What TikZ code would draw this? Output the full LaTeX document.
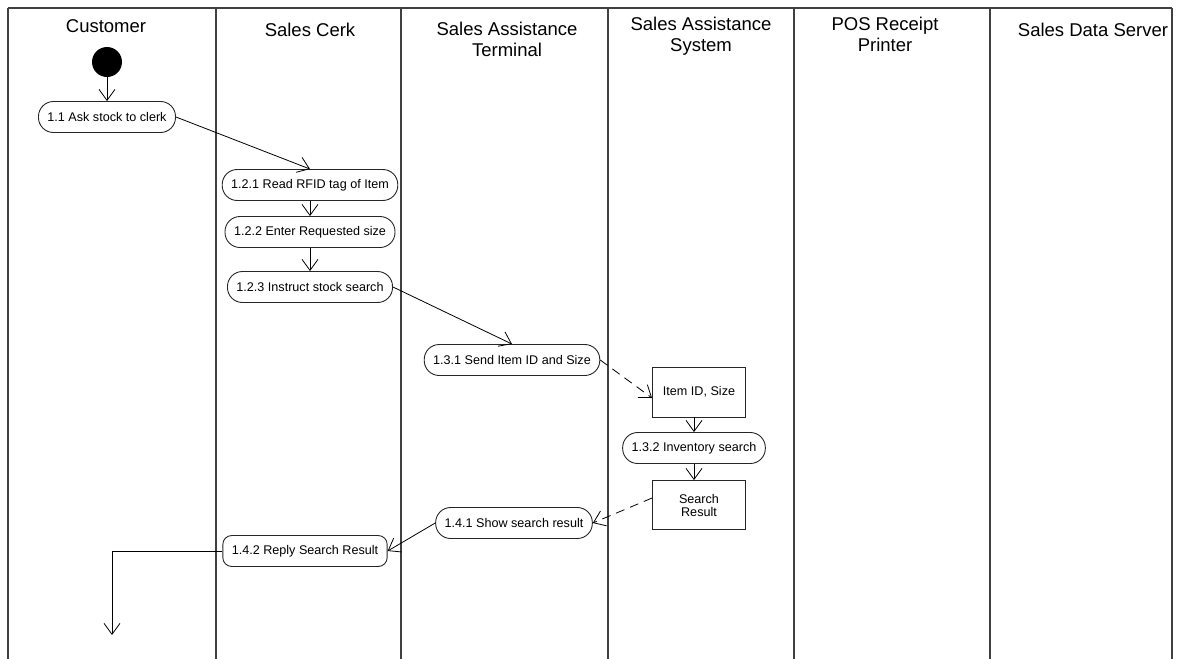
\documentclass[tikz,border=0pt]{standalone}
\usepackage{fontspec}
\setmainfont{Liberation Sans}
\usetikzlibrary{positioning,arrows.meta,calc}

\begin{document}
\begin{tikzpicture}[
  x=1pt, y=-1pt,
  lane/.style={draw=black!75, line width=1.3pt},
  hdr/.style={anchor=base, align=center, font=\fontsize{18.5}{21}\selectfont, inner sep=0pt},
  act/.style={draw=black!85, line width=0.9pt, rounded corners=15pt,
              minimum height=31pt, inner xsep=9pt, inner ysep=0pt,
              font=\fontsize{12.6}{13}\selectfont},
  actsq/.style={act, rounded corners=9pt},
  obj/.style={draw=black!85, line width=0.9pt, minimum width=93pt, minimum height=50pt,
              align=center, font=\fontsize{12.6}{13}\selectfont},
  flow/.style={->, line width=0.8pt},
  dflow/.style={flow, dash pattern=on 9pt off 6pt},
  >={Straight Barb[length=11pt, width=16pt]}
]
  \useasboundingbox (0,0) rectangle (1179,659);

  % swimlanes
  \draw[lane] (8,8) -- (1172,8);
  \foreach \x in {8,216,401,608,794,990,1172}
    \draw[lane] (\x,8) -- (\x,659);

  \node[hdr] (hcust)   at (106,32)  {Customer};
  \node[hdr] (hclerk)  at (310,36)  {Sales Cerk};
  \node[hdr] (hterm)   at (507,56)  {Sales Assistance\\Terminal};
  \node[hdr] (hsys)    at (701,51)  {Sales Assistance\\System};
  \node[hdr] (hprint)  at (885,51)  {POS Receipt\\Printer};
  \node[hdr] (hserver) at (1093,36) {Sales Data Server};

  % activities
  \node[circle, fill=black, minimum size=30pt, inner sep=0pt] (start) at (107,62) {};
  \node[act] (a11)  at (107,117) {1.1 Ask stock to clerk};
  \node[act] (a121) at (310,185) {1.2.1 Read RFID tag of Item};
  \node[act] (a122) at (310,232) {1.2.2 Enter Requested size};
  \node[act] (a123) at (310,287) {1.2.3 Instruct stock search};
  \node[act] (a131) at (512,360) {1.3.1 Send Item ID and Size};
  \node[obj] (item) at (699,392) {Item ID, Size};
  \node[act] (a132) at (694,448) {1.3.2 Inventory search};
  \node[obj, minimum height=49pt] (result) at (699,505) {Search\\Result};
  \node[act] (a141) at (514,523) {1.4.1 Show search result};
  \node[actsq] (a142) at (305,551) {1.4.2 Reply Search Result};
  \coordinate (done) at (112,635);

  % flows
  \draw[flow] (start) -- (a11);
  \draw[flow] (a11.east) -- (a121.north);
  \draw[flow] (a121) -- (a122);
  \draw[flow] (a122) -- (a123);
  \draw[flow] (a123.east) -- (a131.north);
  \draw[dflow] (a131.east) -- ([yshift=-6pt]item.west);
  \draw[flow] (item.south -| a132.north) -- (a132.north);
  \draw[flow] (a132.south) -- (result.north -| a132.south);
  \draw[dflow] ([yshift=7pt]result.west) -- (a141.east);
  \draw[flow] (a141.west) -- (a142.east);
  \draw[flow] (a142.west) -| (done);
\end{tikzpicture}
\end{document}
